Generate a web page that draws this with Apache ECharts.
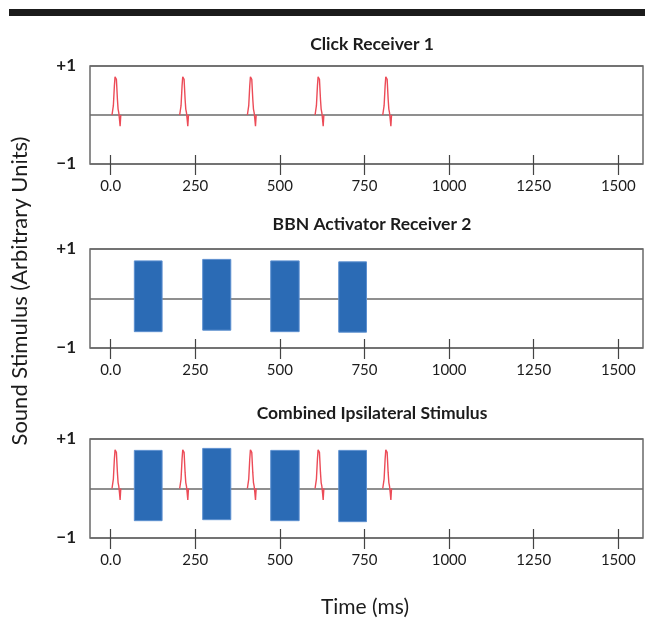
<!DOCTYPE html>
<html><head><meta charset="utf-8">
<script src="https://cdn.jsdelivr.net/npm/echarts@6/dist/echarts.min.js"></script>
<style>html,body{margin:0;padding:0;background:#fff}#c{width:645px;height:632px}</style>
</head><body><div id="c"></div>
<script>
// ---- data ----
const xTickValues = [0, 250, 500, 750, 1000, 1250, 1500];
const xTickLabels = ['0.0', '250', '500', '750', '1000', '1250', '1500'];
const yTickValues = [-1, 1];
const yTickLabels = ['\u22121', '+1'];
const panelTitles = ['Click Receiver 1', 'BBN Activator Receiver 2', 'Combined Ipsilateral Stimulus'];
const xAxisTitle = 'Time (ms)';
const yAxisTitle = 'Sound Stimulus (Arbitrary Units)';
// click onsets (ms) and click waveform (time offset in ms, amplitude)
const clickOnsets = [0, 200, 400, 600, 800];
const clickShapeT = [4, 6, 8, 11, 13, 15, 17, 20, 22, 24, 26, 28, 29, 30];
const clickShapeV = [0, 0.02, 0.19, 0.59, 0.78, 0.81, 0.73, 0.32, 0.12, 0.05, -0.08, -0.23, -0.11, 0];
// broadband noise bursts (ms) and their extents
const bbnStart = [70, 272, 473, 674];
const bbnEnd = [152, 355, 557, 756];
const bbnTopP2 = [0.76, 0.79, 0.76, 0.74];
const bbnBottomP2 = [-0.67, -0.64, -0.67, -0.68];
const bbnTopP3 = [0.77, 0.81, 0.77, 0.77];
const bbnBottomP3 = [-0.65, -0.63, -0.65, -0.67];

// ---- chart ----
const FONT = 'Lato';
const TXT = '#1c1c1c';
const chart = echarts.init(document.getElementById('c'), null, {renderer: 'canvas'});
const gridTops = [66, 249, 439];
const gridH = [98, 99, 99];
const grids = gridTops.map((t, i) => ({
  left: 90, right: 2, top: t, height: gridH[i], show: true,
  borderColor: '#6a6a6a', borderWidth: 1.5, backgroundColor: 'transparent'
}));
const xAxes = [], yAxes = [];
gridTops.forEach((t, i) => {
  xAxes.push({
    type: 'value', gridIndex: i, position: 'bottom', min: -61, max: 1573,
    axisLine: {show: false, onZero: false},
    splitLine: {show: false},
    axisTick: {show: true, inside: true, length: 9, customValues: xTickValues, lineStyle: {color: '#444', width: 1.2}},
    axisLabel: {customValues: xTickValues, formatter: v => xTickLabels[xTickValues.indexOf(v)],
      margin: 15, fontSize: 15, color: TXT, fontFamily: FONT}
  });
  xAxes.push({
    type: 'value', gridIndex: i, position: 'bottom', offset: 0, min: -61, max: 1573,
    axisLine: {show: false, onZero: false}, splitLine: {show: false},
    axisTick: {show: true, inside: false, length: 11, customValues: xTickValues, lineStyle: {color: '#444', width: 1.2}},
    axisLabel: {show: false}
  });
  yAxes.push({
    type: 'value', gridIndex: i, min: -1, max: 1, interval: 1,
    axisLine: {show: false}, axisTick: {show: false},
    splitLine: {show: true, lineStyle: {color: '#6a6a6a', width: 1.5}},
    axisLabel: {formatter: v => { const k = yTickValues.indexOf(v); return k < 0 ? '' : yTickLabels[k]; },
      margin: 14, fontSize: 17, fontWeight: 'bold', color: TXT, fontFamily: FONT}
  });
});

const series = [];
function addClicks(gi) {
  clickOnsets.forEach(on => {
    series.push({
      type: 'line', xAxisIndex: gi * 2, yAxisIndex: gi, symbol: 'none', silent: true, z: 3,
      lineStyle: {color: '#ec4b57', width: 1.4},
      data: clickShapeT.map((dt, k) => [on + dt, clickShapeV[k]])
    });
  });
}
function addBBN(gi, tops, bottoms) {
  series.push({
    type: 'custom', xAxisIndex: gi * 2, yAxisIndex: gi, z: 2,
    encode: {x: [0, 1], y: [2, 3]},
    data: bbnStart.map((s, k) => [s, bbnEnd[k], bottoms[k], tops[k]]),
    renderItem: (params, api) => {
      const p1 = api.coord([api.value(0), api.value(3)]);
      const p2 = api.coord([api.value(1), api.value(2)]);
      return {type: 'rect', shape: {x: p1[0], y: p1[1], width: p2[0] - p1[0], height: p2[1] - p1[1]},
        style: {fill: '#2b6bb5', stroke: '#5d90d0', lineWidth: 1}};
    }
  });
}
addClicks(0);
addBBN(1, bbnTopP2, bbnBottomP2);
addBBN(2, bbnTopP3, bbnBottomP3);
addClicks(2);

const titleY = [44, 224, 413];
const graphic = [
  {type: 'rect', shape: {x: 9, y: 9, width: 636, height: 7}, style: {fill: '#1b1b1b'}},
  {type: 'text', x: 365, y: 607, style: {text: xAxisTitle, fontSize: 21, fontFamily: FONT, fill: TXT, textAlign: 'center', textVerticalAlign: 'middle'}},
  {type: 'text', x: 20, y: 291, rotation: Math.PI / 2, style: {text: yAxisTitle, fontSize: 22, fontFamily: FONT, fill: TXT, textAlign: 'center', textVerticalAlign: 'middle'}}
];
panelTitles.forEach((t, i) => graphic.push({type: 'text', x: 372, y: titleY[i],
  style: {text: t, fontSize: 17.5, fontWeight: 'bold', fontFamily: FONT, fill: TXT, textAlign: 'center', textVerticalAlign: 'middle'}}));

chart.setOption({
  animation: false,
  grid: grids, xAxis: xAxes, yAxis: yAxes, series: series, graphic: graphic
});
</script></body></html>
